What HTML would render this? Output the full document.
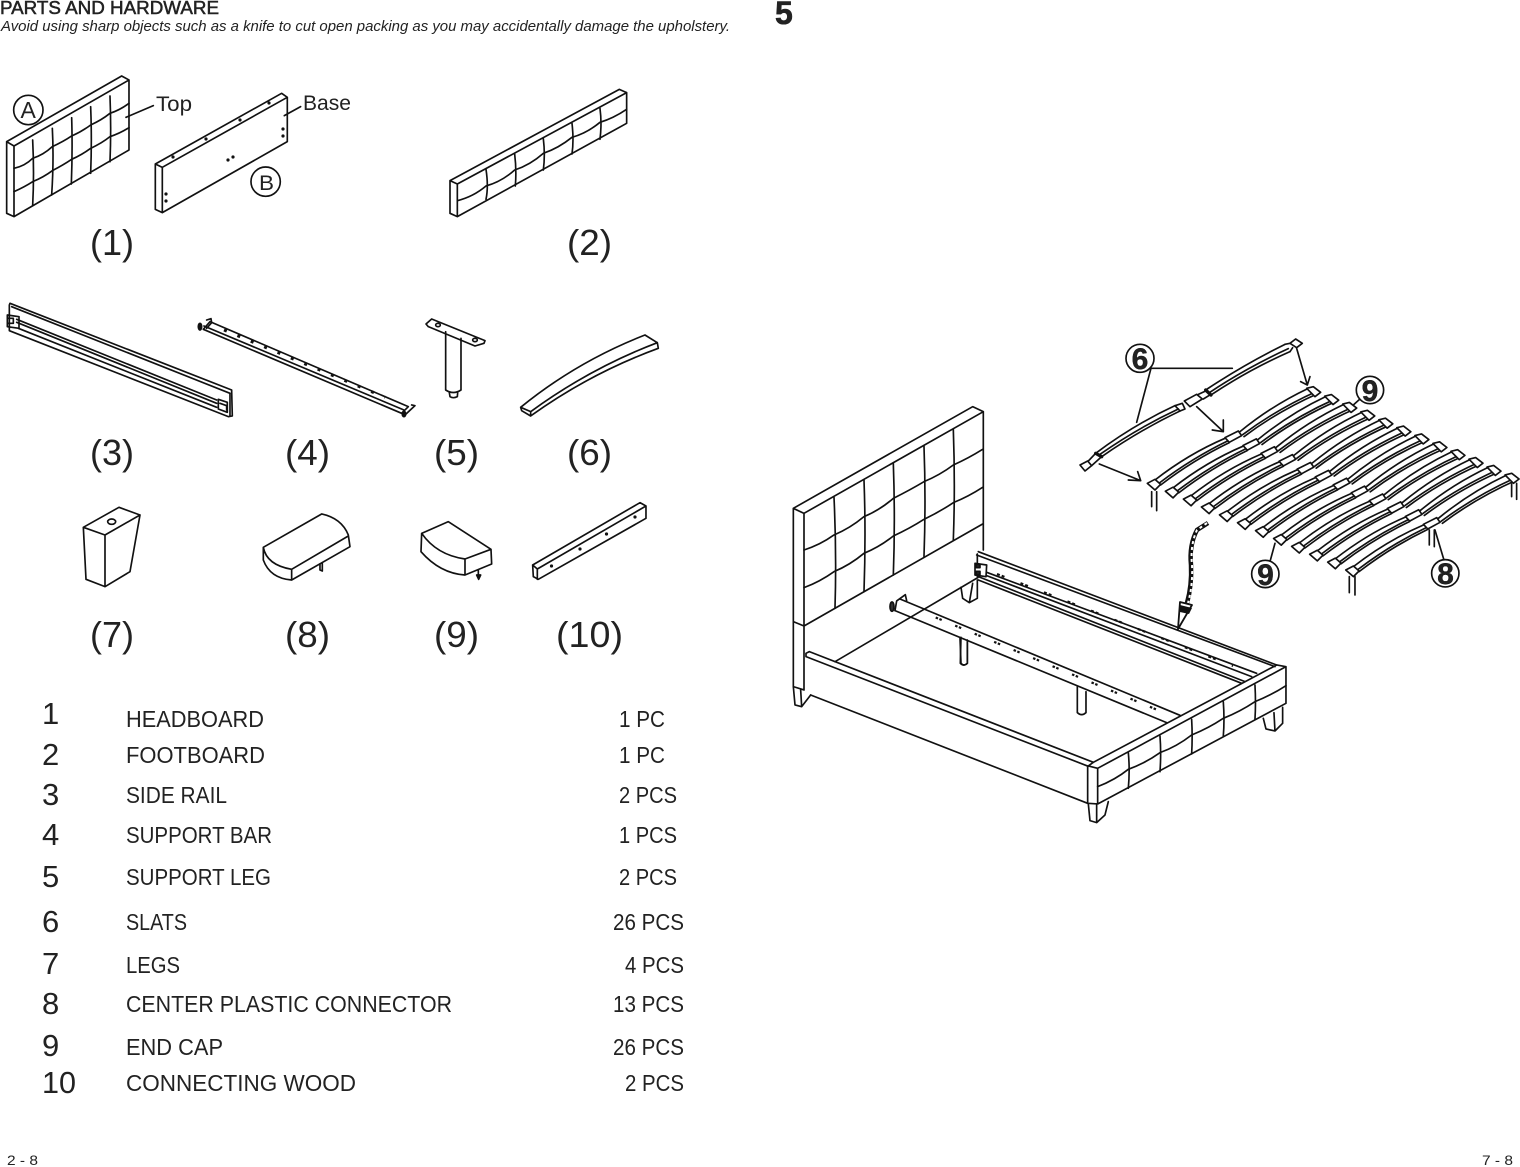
<!DOCTYPE html>
<html><head><meta charset="utf-8"><style>
html,body{margin:0;padding:0;background:#fff;width:1520px;height:1167px;overflow:hidden}
svg{display:block}
text{font-family:"Liberation Sans",sans-serif;fill:#222}
.z{fill:none;stroke:#111;stroke-width:5;stroke-linejoin:round;stroke-linecap:round}
.g{fill:none;stroke:#111;stroke-width:1.6;stroke-linejoin:round;stroke-linecap:round}
.w{fill:#fff}
.lab{font-size:36px}
.li{font-size:23px}
.n{font-size:31px}
</style></head><body>
<svg width="1520" height="1167" viewBox="0 0 1520 1167" xmlns="http://www.w3.org/2000/svg">
<rect width="1520" height="1167" fill="#fff"/>

<text x="0" y="14" font-size="18" textLength="219" lengthAdjust="spacingAndGlyphs" stroke="#222" stroke-width=".5">PARTS AND HARDWARE</text>
<text x="1" y="31" font-size="15" font-style="italic" textLength="729" lengthAdjust="spacingAndGlyphs">Avoid using sharp objects such as a knife to cut open packing as you may accidentally damage the upholstery.</text>
<text x="775" y="24" font-size="32" font-weight="bold" stroke="#222" stroke-width=".6">5</text>

<!-- Item 1 A -->
<g transform="translate(0,60) scale(.3333)" class="z">
<path d="M20 245L365 48L387 60V270L42 470L20 460ZM20 245L42 258V470M42 258L387 60"/>
<path d="M98 240Q103 340 98 437M157 205Q162 300 155 405M215 173Q218 270 214 372M272 140Q276 240 272 340M330 108Q334 210 330 305"/>
<path d="M42 325Q75 318 98 295Q130 285 157 260Q190 245 215 228Q245 215 272 195Q305 180 330 160Q360 150 387 130"/>
<path d="M42 395Q75 380 98 365Q130 352 157 332Q190 315 215 298Q245 285 272 265Q305 250 330 230Q360 220 387 203"/>
<circle cx="85" cy="150" r="44"/>
<path d="M378 172L460 137"/>
</g>
<text x="20.5" y="118" font-size="23">A</text>
<text x="156" y="111" font-size="21" textLength="36" lengthAdjust="spacingAndGlyphs">Top</text>
<!-- Item 1 B -->
<g transform="translate(0,60) scale(.3333)" class="z">
<path d="M466 312L845 100L862 112V245L487 458L466 448ZM466 312L487 322V458M487 322L862 112"/>
<circle cx="797" cy="365" r="44"/>
<path d="M853 167L902 140"/>
</g>
<g fill="#111">
<circle cx="173" cy="157" r="1.6"/><circle cx="206" cy="139" r="1.6"/><circle cx="240" cy="120" r="1.6"/><circle cx="269" cy="103" r="1.6"/>
<circle cx="283" cy="129" r="1.6"/><circle cx="283" cy="136" r="1.6"/><circle cx="228" cy="160" r="1.6"/><circle cx="233" cy="157" r="1.6"/>
<circle cx="166" cy="194" r="1.6"/><circle cx="166" cy="201" r="1.6"/>
</g>
<text x="303" y="110" font-size="21" textLength="48" lengthAdjust="spacingAndGlyphs">Base</text>
<text x="259" y="190" font-size="21" textLength="15" lengthAdjust="spacingAndGlyphs">B</text>

<!-- Item 2 -->
<g transform="translate(440,80) scale(.3333)" class="z">
<path d="M30 302L538 28L560 38V130L52 410L30 400ZM30 302L52 312V410M52 312L560 38"/>
<path d="M138 268Q146 320 138 358M224 222Q230 270 226 318M310 176Q316 225 310 270M396 130Q402 180 396 222M480 85Q486 130 480 178"/>
<path d="M52 362Q100 350 138 318Q185 305 224 270Q270 255 310 220Q355 205 396 172Q440 160 480 127Q520 115 560 88"/>
</g>

<!-- Item 3 -->
<g transform="translate(0,290) scale(.3333)" class="z">
<path d="M30 40L695 300L697 378L685 380L28 122V45Z"/>
<path d="M35 50L690 310M50 88L650 330M50 97L650 340M55 115L650 352"/>
<path d="M22 75L57 80V115L22 110ZM22 85H40V100H22Z"/>
<path d="M655 328L682 337V367L655 357ZM660 340L680 347V360"/>
<path d="M690 310V378"/>
</g>
<!-- Item 4 -->
<g transform="translate(0,290) scale(.3333)" class="z">
<path d="M630 95L1225 350M610 118L1205 370M612 108L1212 360M630 95L610 118M1225 350L1205 370"/>
<path d="M620 90L633 86L635 98L620 115M1235 345L1245 347L1215 375"/>
<ellipse cx="600" cy="110" rx="5" ry="10" fill="#111"/><ellipse cx="1212" cy="372" rx="5" ry="8" fill="#111"/>
</g>
<line x1="224" y1="330" x2="385" y2="397.3" stroke="#111" stroke-width="3" stroke-dasharray="3 11.5"/>

<!-- Item 5, 6 -->
<g transform="translate(410,300) scale(.3333)" class="z">
<path d="M107 95V270Q130 285 153 270V115"/>
<path d="M118 278L120 290Q130 296 142 290L143 278"/>
<path d="M48 72L65 57L225 122L222 130L195 138L55 80Z"/>
<ellipse cx="84" cy="75" rx="7" ry="5"/><ellipse cx="195" cy="120" rx="7" ry="5"/>
<path d="M332 322Q500 185 705 105L742 128L745 145Q540 220 362 348L335 332ZM332 322L362 335V348M362 335Q540 205 742 128"/>
</g>

<!-- Item 7, 8 -->
<g transform="translate(70,490) scale(.3333)" class="z">
<path d="M40 112L147 52L210 75L105 135ZM40 112L48 268L105 290V135M210 75L180 245L105 290"/>
<ellipse cx="125" cy="95" rx="12" ry="8"/>
<path d="M580 172L755 72Q815 85 835 135L840 170L665 270Q600 265 580 210ZM665 238L835 138M580 172Q590 225 665 238V270"/>
<path d="M750 222V240L757 243V220"/>
</g>
<!-- Item 9, 10 -->
<g transform="translate(410,490) scale(.3333)" class="z">
<path d="M35 130L115 95L243 178L245 222L165 255Q90 250 33 185ZM35 130Q80 195 165 207L243 178M165 207V255"/>
<path d="M205 240V262"/><path d="M200 255H212L206 268Z" fill="#111"/>
<path d="M368 225L690 38L708 48V85L385 268L370 260ZM368 225L382 237V268M382 237L708 48"/>
</g>
<g fill="#111"><circle cx="551.5" cy="566" r="1.6"/><circle cx="580" cy="549" r="1.6"/><circle cx="606.5" cy="534" r="1.6"/><circle cx="635" cy="517" r="1.6"/></g>

<!-- Labels -->
<text class="lab" x="90" y="255" textLength="44" lengthAdjust="spacingAndGlyphs">(1)</text>
<text class="lab" x="567" y="255" textLength="45" lengthAdjust="spacingAndGlyphs">(2)</text>
<text class="lab" x="90" y="465" textLength="44" lengthAdjust="spacingAndGlyphs">(3)</text>
<text class="lab" x="285" y="465" textLength="45" lengthAdjust="spacingAndGlyphs">(4)</text>
<text class="lab" x="434" y="465" textLength="45" lengthAdjust="spacingAndGlyphs">(5)</text>
<text class="lab" x="567" y="465" textLength="45" lengthAdjust="spacingAndGlyphs">(6)</text>
<text class="lab" x="90" y="647" textLength="44" lengthAdjust="spacingAndGlyphs">(7)</text>
<text class="lab" x="285" y="647" textLength="45" lengthAdjust="spacingAndGlyphs">(8)</text>
<text class="lab" x="434" y="647" textLength="45" lengthAdjust="spacingAndGlyphs">(9)</text>
<text class="lab" x="556" y="647" textLength="67" lengthAdjust="spacingAndGlyphs">(10)</text>

<!-- Parts list -->
<text class="n" x="42" y="724">1</text><text class="li" x="126" y="727" textLength="138" lengthAdjust="spacingAndGlyphs">HEADBOARD</text><text class="li" x="619" y="727" textLength="46" lengthAdjust="spacingAndGlyphs">1 PC</text>
<text class="n" x="42" y="765">2</text><text class="li" x="126" y="763" textLength="139" lengthAdjust="spacingAndGlyphs">FOOTBOARD</text><text class="li" x="619" y="763" textLength="46" lengthAdjust="spacingAndGlyphs">1 PC</text>
<text class="n" x="42" y="805">3</text><text class="li" x="126" y="803" textLength="101" lengthAdjust="spacingAndGlyphs">SIDE RAIL</text><text class="li" x="619" y="803" textLength="58" lengthAdjust="spacingAndGlyphs">2 PCS</text>
<text class="n" x="42" y="845">4</text><text class="li" x="126" y="843" textLength="146" lengthAdjust="spacingAndGlyphs">SUPPORT BAR</text><text class="li" x="619" y="843" textLength="58" lengthAdjust="spacingAndGlyphs">1 PCS</text>
<text class="n" x="42" y="887">5</text><text class="li" x="126" y="885" textLength="145" lengthAdjust="spacingAndGlyphs">SUPPORT LEG</text><text class="li" x="619" y="885" textLength="58" lengthAdjust="spacingAndGlyphs">2 PCS</text>
<text class="n" x="42" y="932">6</text><text class="li" x="126" y="930" textLength="61" lengthAdjust="spacingAndGlyphs">SLATS</text><text class="li" x="613" y="930" textLength="71" lengthAdjust="spacingAndGlyphs">26 PCS</text>
<text class="n" x="42" y="974">7</text><text class="li" x="126" y="973" textLength="54" lengthAdjust="spacingAndGlyphs">LEGS</text><text class="li" x="625" y="973" textLength="59" lengthAdjust="spacingAndGlyphs">4 PCS</text>
<text class="n" x="42" y="1014">8</text><text class="li" x="126" y="1012" textLength="326" lengthAdjust="spacingAndGlyphs">CENTER PLASTIC CONNECTOR</text><text class="li" x="613" y="1012" textLength="71" lengthAdjust="spacingAndGlyphs">13 PCS</text>
<text class="n" x="42" y="1056">9</text><text class="li" x="126" y="1055" textLength="97" lengthAdjust="spacingAndGlyphs">END CAP</text><text class="li" x="613" y="1055" textLength="71" lengthAdjust="spacingAndGlyphs">26 PCS</text>
<text class="n" x="42" y="1093" textLength="34" lengthAdjust="spacingAndGlyphs">10</text><text class="li" x="126" y="1091" textLength="230" lengthAdjust="spacingAndGlyphs">CONNECTING WOOD</text><text class="li" x="625" y="1091" textLength="59" lengthAdjust="spacingAndGlyphs">2 PCS</text>

<text x="7" y="1165" font-size="14" textLength="31" lengthAdjust="spacingAndGlyphs">2 - 8</text>
<text x="1482" y="1165" font-size="14" textLength="31" lengthAdjust="spacingAndGlyphs">7 - 8</text>

<!-- Bed: back parts -->
<g transform="translate(960,530) scale(.3333)" class="z">
<path d="M55 65L950 405M50 75L945 410M52 72V140M75 125L890 430M75 135L875 440M55 140L855 455M55 150L845 460"/>
<path class="w" d="M45 100L80 105L78 140L45 135Z"/>
<path d="M48 103H60V113H48ZM48 124H60V134H48Z" fill="#222"/>
<path d="M3 172L8 205L28 218L52 205L52 150M38 160L28 218"/>
</g>
<line x1="997" y1="574" x2="1233" y2="666" stroke="#111" stroke-width="2.2" stroke-dasharray="3 2 3 17.2"/>
<line x1="835" y1="661.7" x2="978" y2="577.5" class="g"/>

<!-- Headboard -->
<g transform="translate(780,400) scale(.3333)" class="z">
<path d="M40 325L578 20L610 35V450M40 325L72 340L610 35M40 325V860L72 870V340M72 678L608 372M40 665L72 678"/>
<path d="M162 292Q170 460 165 625M252 240Q258 400 252 575M340 190Q346 360 340 525M432 138Q438 300 432 470M520 88Q526 260 520 420"/>
<path d="M72 450Q120 435 162 405Q210 385 252 350Q300 330 340 295Q390 270 432 245Q480 225 520 195Q565 175 608 148"/>
<path d="M72 563Q120 545 162 515Q210 495 252 460Q300 440 340 408Q390 385 432 358Q480 335 520 308Q565 290 608 262"/>
<path d="M40 860L45 915L65 920L92 885M62 870L65 920"/>
</g>
<!-- Support legs + bar -->
<g transform="translate(780,400) scale(.3333)" class="z">
<path d="M543 712L541 790Q551 800 562 790V725"/>
<path d="M360 597L1200 946M345 632L1160 968" />
<path d="M345 632L350 603L376 584L380 602"/>
<ellipse cx="336" cy="620" rx="6" ry="14" fill="#333"/>
</g>
<line x1="935.7" y1="617.5" x2="1160" y2="711" stroke="#111" stroke-width="2.2" stroke-dasharray="2.5 1.5 2.5 14.6"/>
<g transform="translate(960,530) scale(.3333)" class="z">
<path d="M352 470V548Q365 560 378 548V485"/>
<path d="M0 325L3 400Q12 410 22 400V330"/>
</g>
<!-- Foreground rail + footboard -->
<g transform="translate(780,400) scale(.3333)" class="z">
<path d="M78 760L88 755L940 1087M78 770L925 1099M78 760V770M92 885L923 1210"/>
</g>
<g transform="translate(960,530) scale(.3333)" class="z">
<path d="M385 708L400 697L950 405L978 410L413 715ZM978 410V520L413 822L383 820V708M413 715V822"/>
<path d="M505 668Q510 720 505 775M600 618Q604 670 600 725M695 568Q698 620 695 672M790 515Q794 570 790 618M885 465Q888 520 885 568"/>
<path d="M413 770Q465 750 505 718Q555 700 600 668Q650 650 695 615Q745 595 790 565Q840 545 885 515Q935 495 978 467"/>
<path d="M910 565L918 597L945 603L968 580V532M942 548L945 603"/>
<path d="M385 822L390 872L410 878L435 855L445 815M410 825V878"/>
</g>

<!-- Slats -->
<defs>
<g id="slat">
<path class="w" d="M255 450Q360 380 465 325L510 305Q610 235 715 175L745 190Q628 252 522 320L478 338Q375 398 272 465Z" stroke="none"/>
<path d="M255 450Q355 372 465 325M272 465Q370 390 478 338M268 459Q367 384 475 332"/>
<path d="M510 305Q605 227 715 175M522 320Q623 244 745 190M518 314Q620 238 740 184"/>
<path class="w" d="M465 323L505 303L515 317L478 337Z"/>
<path class="w" d="M232 460L255 448L272 463L255 480Z"/>
<path class="w" d="M710 175L730 170L752 187L735 200Z"/>
</g>
</defs>
<g transform="translate(1070,330) scale(.3333)" class="z">
<use href="#slat"/>
<use href="#slat" x="54.1" y="23.6"/>
<use href="#slat" x="108.2" y="47.3"/>
<use href="#slat" x="162.3" y="70.9"/>
<use href="#slat" x="216.5" y="94.5"/>
<use href="#slat" x="270.6" y="118.2"/>
<use href="#slat" x="324.7" y="141.8"/>
<use href="#slat" x="378.8" y="165.5"/>
<use href="#slat" x="432.9" y="189.1"/>
<use href="#slat" x="487" y="212.7"/>
<use href="#slat" x="541.1" y="236.4"/>
<use href="#slat" x="595.3" y="260"/>

<!-- exploded slat -->
<path d="M55 393L77 370M65 407L95 380"/>
<path d="M77 370Q190 285 315 227M95 380Q210 300 330 243M90 373Q205 293 325 237"/>
<path d="M77 370L95 380" stroke-width="10"/>
<path d="M315 227L337 220L345 237L330 243Z"/>
<path class="w" d="M30 405L53 393L65 407L45 423Z"/>
<path class="w" d="M343 213L380 193L397 207L360 230Z"/>
<path d="M385 193L407 183L423 193L400 207"/>
<path d="M407 180L423 195" stroke-width="10"/>
<path d="M407 180Q520 105 645 43M423 195Q535 120 660 65M418 188Q530 113 655 56"/>
<path d="M645 43L660 40M660 65L668 53"/>
<path class="w" d="M660 40L677 27L697 40L680 53Z"/>

<!-- arrows -->
<path d="M680 55L712 165M692 155L712 165L720 140M380 230L460 305M427 300L460 305L460 270M88 402L212 452M175 450L212 452L203 425"/>
<path d="M243 115H487M243 115L200 277M850 225L872 205M615 640L600 695M1095 600L1122 690"/>
<path d="M245 485V530M260 485V542M1325 462V500M1340 460V508M1078 600V645M1093 600V650M838 740V788M855 740V795"/>
<circle class="w" cx="210" cy="85" r="42"/><circle class="w" cx="900" cy="180" r="41"/><circle class="w" cx="586" cy="732" r="41"/><circle class="w" cx="1126" cy="730" r="41"/>
</g>
<g font-size="30" font-weight="bold" text-anchor="middle" fill="#111" stroke="#111" stroke-width=".4">
<text x="1140" y="369">6</text><text x="1370" y="401">9</text><text x="1265.5" y="585">9</text><text x="1445.5" y="584">8</text>
</g>

<!-- tool squiggle -->
<path d="M1208 523L1197 530Q1189 545 1191 565Q1192 585 1187 603" fill="none" stroke="#111" stroke-width="4.5"/>
<path d="M1207 523L1197 530Q1190 545 1192 565Q1193 585 1188 603" fill="none" stroke="#fff" stroke-width="2" stroke-dasharray="3 3"/>
<path d="M1180 602L1192 605L1178 629Z" fill="#fff" stroke="#111" stroke-width="1.8" stroke-linejoin="round"/>
<path d="M1180 605L1192 608L1189 614L1180 612Z" fill="#111"/>
</svg>
</body></html>
